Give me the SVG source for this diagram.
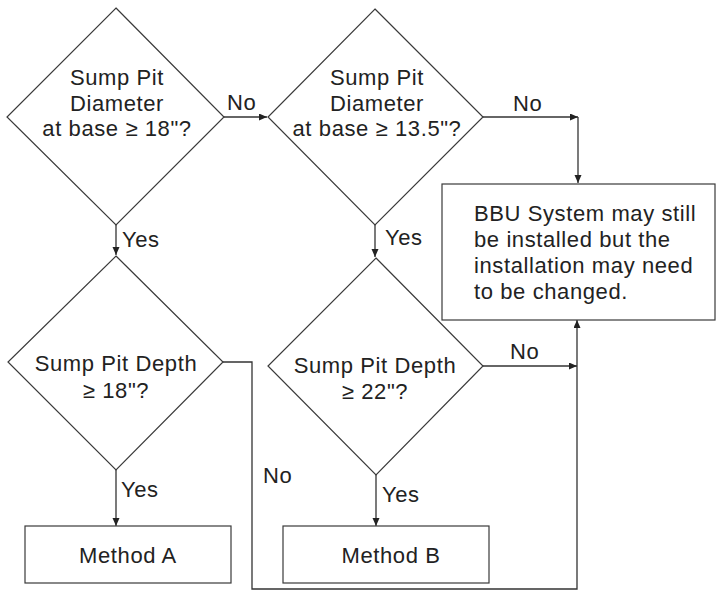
<svg xmlns="http://www.w3.org/2000/svg" width="718" height="591" viewBox="0 0 718 591">
<style>
.shape{fill:#fff;stroke:#3a3a3a;stroke-width:1.2}
.t{font-family:"Liberation Sans",Arial,sans-serif;font-size:22px;letter-spacing:0.6px;fill:#222}
.c{text-anchor:middle}
.ln{fill:none;stroke:#333;stroke-width:1.3}
</style>
<defs>
<marker id="ah" markerUnits="userSpaceOnUse" markerWidth="10" markerHeight="8" refX="8" refY="3.5" orient="auto">
<path d="M0,0 L8,3.5 L0,7 z" fill="#222"/>
</marker>
</defs>
<rect width="718" height="591" fill="#fff"/>
<g id="connectors">
<path class="ln" d="M224,117 H267" marker-end="url(#ah)"/>
<text class="t" x="227" y="110">No</text>
<path class="ln" d="M116,225 V255" marker-end="url(#ah)"/>
<text class="t" x="122" y="247">Yes</text>
<path class="ln" d="M483,117 H578" marker-end="url(#ah)"/>
<path class="ln" d="M578,117 V183" marker-end="url(#ah)"/>
<text class="t" x="513" y="111">No</text>
<path class="ln" d="M375,225 V257" marker-end="url(#ah)"/>
<text class="t" x="385" y="245">Yes</text>
<path class="ln" d="M116,470 V526" marker-end="url(#ah)"/>
<text class="t" x="121" y="497">Yes</text>
<path class="ln" d="M376,475 V526" marker-end="url(#ah)"/>
<text class="t" x="382" y="502">Yes</text>
<path class="ln" d="M223,362 H252 V589 H577 V320" marker-end="url(#ah)"/>
<text class="t" x="263" y="483">No</text>
<path class="ln" d="M483,366 H577" marker-end="url(#ah)"/>
<text class="t" x="510" y="359">No</text>
</g>
<g id="d1">
<polygon class="shape" points="116,8 224,117 116,225 7,117"/>
<text class="t c" x="117" y="85">Sump Pit</text>
<text class="t c" x="117" y="111">Diameter</text>
<text class="t c" x="117" y="136">at base ≥ 18"?</text>
</g>
<g id="d2">
<polygon class="shape" points="375,9 483,117 375,225 268,117"/>
<text class="t c" x="377" y="85">Sump Pit</text>
<text class="t c" x="377" y="111">Diameter</text>
<text class="t c" x="377" y="136">at base ≥ 13.5"?</text>
</g>
<g id="box">
<rect class="shape" x="442" y="184" width="273" height="136"/>
<text class="t" x="474" y="221">BBU System may still</text>
<text class="t" x="474" y="247">be installed but the</text>
<text class="t" x="474" y="273">installation may need</text>
<text class="t" x="474" y="299">to be changed.</text>
</g>
<g id="d3">
<polygon class="shape" points="116,256 223,362 116,470 8,362"/>
<text class="t c" x="116" y="371">Sump Pit Depth</text>
<text class="t c" x="116" y="398">≥ 18"?</text>
</g>
<g id="d4">
<polygon class="shape" points="376,258 483,366 376,475 268,366"/>
<text class="t c" x="375" y="373">Sump Pit Depth</text>
<text class="t c" x="375" y="399">≥ 22"?</text>
</g>
<g id="methodA">
<rect class="shape" x="25" y="526" width="206" height="57"/>
<text class="t c" x="128" y="563">Method A</text>
</g>
<g id="methodB">
<rect class="shape" x="283" y="526" width="206" height="57"/>
<text class="t c" x="391" y="563">Method B</text>
</g>
</svg>
